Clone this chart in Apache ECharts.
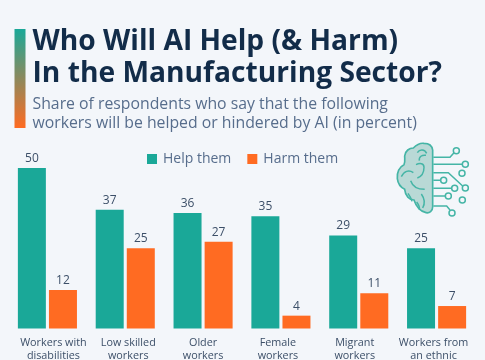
<!DOCTYPE html>
<html><head><meta charset="utf-8">
<style>html,body{margin:0;padding:0;background:#f3f6fa;overflow:hidden}#c{width:485px;height:360px}</style>
<script src="https://cdn.jsdelivr.net/npm/echarts@6/dist/echarts.min.js"></script>
</head><body><div id="c"></div>
<script>
const categories = ["Workers with\ndisabilities","Low skilled\nworkers","Older\nworkers","Female\nworkers","Migrant\nworkers","Workers from\nan ethnic\nminority"];
const helpThem = [50,37,36,35,29,25];
const harmThem = [12,25,27,4,11,7];
const FONT = '"Open Sans", sans-serif';
const TEAL = '#1aa898', ORANGE = '#ff6b22', NAVY = '#122c49', SLATE = '#576d8c', LABEL = '#3c4f68';

const nodes = [[229,62],[256,103],[246,130],[191,151],[224,175],[256,174],[205,198],[247,210],[216,249]];
const iconSvg = `<svg xmlns="http://www.w3.org/2000/svg" width="105" height="100" viewBox="0 0 315 300">
<path d="M158 60 C156 46 146 40 132 40 C120 38 110 44 100 54 C88 54 76 62 74 78 C74 88 76 96 72 104 C58 110 50 128 52 146 C54 164 66 174 74 178 C76 198 88 210 102 210 C108 228 120 244 138 248 C148 250 158 244 158 230 Z" fill="#b9d9d6" stroke="#45b5a6" stroke-width="5"/>
<path d="M112 68 C120 56 134 58 140 70 M138 76 C126 74 116 80 118 92 M108 104 C120 98 132 100 132 112 C132 128 124 140 112 144 M64 140 C72 124 86 118 100 128 M92 152 C98 170 112 178 134 178 M84 190 C90 198 94 206 96 214 M124 192 C134 206 136 220 128 234 M110 216 C116 224 120 232 118 240" fill="none" stroke="#45b5a6" stroke-width="4.5"/>
<path d="M160 82 L210 82 L222 68 M160 103 L246 103 M160 128 L205 128 L248 168 M160 151 L182 151 M160 175 L215 175 M160 198 L196 198 M160 228 L200 228 L210 240" fill="none" stroke="#45b5a6" stroke-width="4.5"/>
${nodes.map(n=>`<circle cx="${n[0]}" cy="${n[1]}" r="9" fill="#f3f6fa" stroke="#45b5a6" stroke-width="4.5"/>`).join('')}
</svg>`;

const graphics = [
  {type:'rect',shape:{x:14.5,y:29,width:11,height:99},style:{fill:new echarts.graphic.LinearGradient(0,0,0,1,[{offset:0,color:TEAL},{offset:1,color:ORANGE}])}},
  {type:'text',style:{x:32.5,y:42,text:'Who Will AI Help (& Harm)',font:'bold 28.2px '+FONT,fill:NAVY,textVerticalAlign:'middle'}},
  {type:'text',style:{x:32.5,y:74,text:'In the Manufacturing Sector?',font:'bold 28.2px '+FONT,fill:NAVY,textVerticalAlign:'middle'}},
  {type:'text',style:{x:32.5,y:104,text:'Share of respondents who say that the following',font:'15.8px '+FONT,fill:SLATE,textVerticalAlign:'middle'}},
  {type:'text',style:{x:32.5,y:123,text:'workers will be helped or hindered by AI (in percent)',font:'15.8px '+FONT,fill:SLATE,textVerticalAlign:'middle'}},
  {type:'image',style:{image:'data:image/svg+xml;charset=utf-8,'+encodeURIComponent(iconSvg),x:380,y:130,width:105,height:100}}
];

// The reference's axis labels sit slightly off their bar groups: pad one side to nudge them.
const labelStyle = {fontFamily:FONT,fontSize:10.8,lineHeight:13.5,color:LABEL};
const rich = {
  s0:{...labelStyle,padding:[0,0,0,12]},
  s1:{...labelStyle,padding:[0,0,0,6]},
  s2:{...labelStyle},
  s3:{...labelStyle,padding:[0,6,0,0]},
  s4:{...labelStyle,padding:[0,8,0,0]},
  s5:{...labelStyle,padding:[0,6,0,0]}
};

const chart = echarts.init(document.getElementById('c'),null,{renderer:'canvas'});
const labelCfg = {show:true,position:'top',distance:3.5,fontFamily:FONT,fontSize:12,color:LABEL};
chart.setOption({
  animation:false,
  backgroundColor:'#f3f6fa',
  textStyle:{fontFamily:FONT},
  legend:{left:147,top:152,padding:0,itemWidth:10,itemHeight:10,itemGap:16,icon:'rect',
    textStyle:{fontFamily:FONT,fontSize:14,color:SLATE,padding:[0,0,0,1]},
    selectedMode:false,data:['Help them','Harm them']},
  grid:{left:8.5,right:9.5,top:168,bottom:31.5,outerBoundsMode:'none'},
  xAxis:{type:'category',data:categories,axisLine:{show:false},axisTick:{show:false},
    axisLabel:{interval:0,margin:7.5,...labelStyle,verticalAlign:'top',hideOverlap:false,rich,
      formatter:(v,i)=>v.split('\n').map(l=>`{s${i}|${l}}`).join('\n')}},
  yAxis:{type:'value',min:0,max:50,show:false,splitLine:{show:false}},
  series:[
    {name:'Help them',type:'bar',data:helpThem,barWidth:28,barGap:'11%',itemStyle:{color:TEAL},label:labelCfg},
    {name:'Harm them',type:'bar',data:harmThem,barWidth:28,itemStyle:{color:ORANGE},label:labelCfg}
  ],
  graphic:{elements:graphics}
});
</script></body></html>
